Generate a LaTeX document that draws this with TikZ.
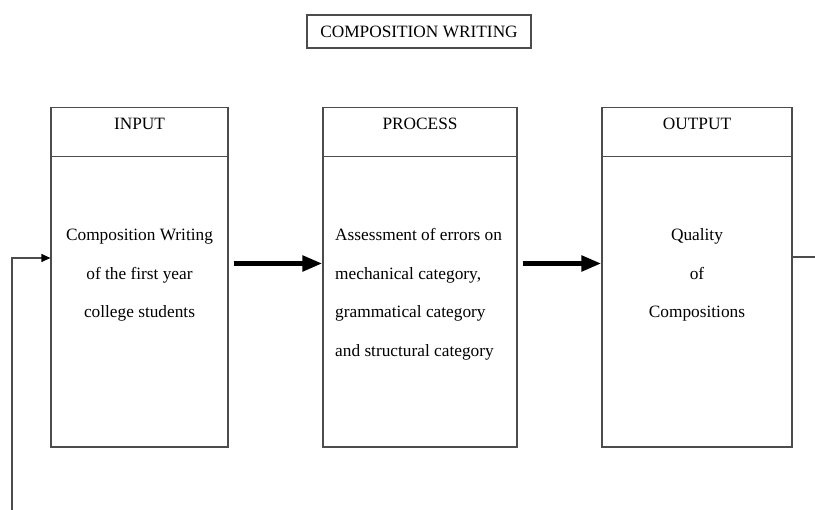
\documentclass[tikz,border=0pt]{standalone}
\usepackage{fontspec}
\setmainfont{Liberation Serif}
\usetikzlibrary{arrows.meta}

\begin{document}
\begin{tikzpicture}[x=1pt,y=1pt,font=\fontsize{17.3}{38.5}\selectfont,
   frame/.style={draw=black!70,line width=1.2pt},
   stage/.style={frame,minimum height=339.5pt,inner sep=0pt},
   bigarrow/.style={-{Triangle[length=20pt,width=15pt]},line width=5pt},
   fbline/.style={draw=black!70,line width=1.2pt}]
   \useasboundingbox (0,0) rectangle (815,510);

   \node[frame,minimum width=224pt,minimum height=33pt] (title) at (419,478.5) {COMPOSITION WRITING};

   % stages
   \node[stage,minimum width=177pt] (input) at (139.5,232.75) {};
   \node[stage,minimum width=194pt] (process) at (420,232.75) {};
   \node[stage,minimum width=190pt] (output) at (697,232.75) {};

   \draw[frame] ([yshift=-49.5pt]input.north west) -- ([yshift=-49.5pt]input.north east);
   \draw[frame] ([yshift=-49.5pt]process.north west) -- ([yshift=-49.5pt]process.north east);
   \draw[frame] ([yshift=-49.5pt]output.north west) -- ([yshift=-49.5pt]output.north east);

   \node[anchor=base] (inhead) at (139.5,380) {INPUT};
   \node[anchor=base] (prochead) at (420,380) {PROCESS};
   \node[anchor=base] (outhead) at (697,380) {OUTPUT};

   % base anchor sits on the last line
   \node[anchor=base,align=center] (intext) at (139.5,192.3) {Composition Writing\\of the first year\\college students};
   \node[anchor=base west,align=left,inner xsep=0pt] (proctext) at (335,153.8) {Assessment of errors on\\mechanical category,\\grammatical category\\and structural category};
   \node[anchor=base,align=center] (outtext) at (697,192.3) {Quality\\of\\Compositions};

   \path[bigarrow] ([xshift=5pt,yshift=13.75pt]input.east) edge ([yshift=13.75pt]process.west);
   \path[bigarrow] ([xshift=5pt,yshift=13.75pt]process.east) edge ([yshift=13.75pt]output.west);

   % feedback
   \coordinate (fbR) at (815,253);
   \coordinate (fbL) at (12,0);
   \draw[fbline] ([yshift=20.25pt]output.east) -- (fbR);
   \draw[fbline,-{Triangle[length=9pt,width=8pt,color=black]}] (fbL) |- ([yshift=19.25pt]input.west);
\end{tikzpicture}
\end{document}
